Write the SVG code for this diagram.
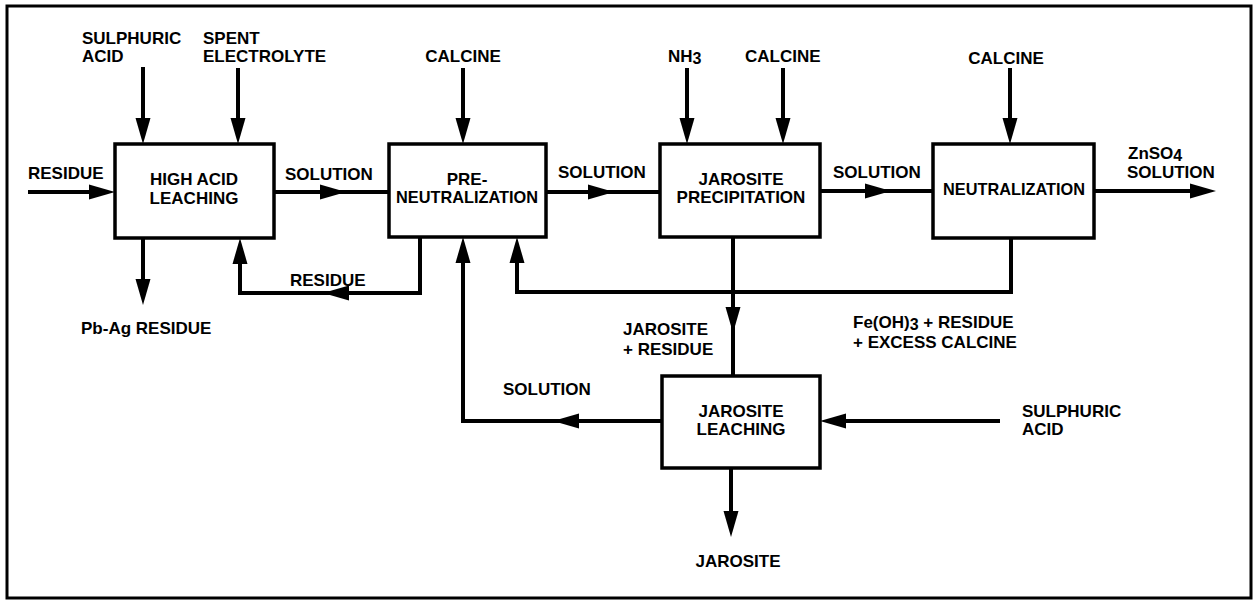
<svg xmlns="http://www.w3.org/2000/svg" xmlns:xlink="http://www.w3.org/1999/xlink" width="1255" height="601" viewBox="0 0 1255 601">
<style>
text{font-family:"Liberation Sans",Arial,sans-serif;font-weight:bold;font-size:17px;fill:#000}
.c{text-anchor:middle}
.box{fill:#fff;stroke:#000;stroke-width:3.5}
.ln{fill:none;stroke:#000;stroke-width:4}
.sub{font-size:16px}
</style>
<defs>
<path id="ah" d="M0,0 L-26,-7.5 L-26,7.5 Z" fill="#000"/>
</defs>
<rect x="7" y="6" width="1244" height="592" fill="#fff" stroke="#000" stroke-width="3"/>

<g id="connectors">
  <line class="ln" x1="143" y1="67" x2="143" y2="134"/>
  <use xlink:href="#ah" href="#ah" transform="translate(143,144) rotate(90)"/>
  <line class="ln" x1="238" y1="68" x2="238" y2="134"/>
  <use xlink:href="#ah" href="#ah" transform="translate(238,144) rotate(90)"/>
  <line class="ln" x1="463" y1="68" x2="463" y2="134"/>
  <use xlink:href="#ah" href="#ah" transform="translate(463,144) rotate(90)"/>
  <line class="ln" x1="687" y1="68" x2="687" y2="134"/>
  <use xlink:href="#ah" href="#ah" transform="translate(687,144) rotate(90)"/>
  <line class="ln" x1="783" y1="68" x2="783" y2="134"/>
  <use xlink:href="#ah" href="#ah" transform="translate(783,144) rotate(90)"/>
  <line class="ln" x1="1010" y1="68" x2="1010" y2="134"/>
  <use xlink:href="#ah" href="#ah" transform="translate(1010,144) rotate(90)"/>
  <line class="ln" x1="28" y1="192" x2="105" y2="192"/>
  <use xlink:href="#ah" href="#ah" transform="translate(115,192)"/>
  <line class="ln" x1="274" y1="192" x2="389" y2="192"/>
  <use xlink:href="#ah" href="#ah" transform="translate(346,192)"/>
  <line class="ln" x1="546" y1="192" x2="660" y2="192"/>
  <use xlink:href="#ah" href="#ah" transform="translate(614,192)"/>
  <line class="ln" x1="820" y1="191" x2="933" y2="191"/>
  <use xlink:href="#ah" href="#ah" transform="translate(891,191)"/>
  <line class="ln" x1="1094" y1="191" x2="1205" y2="191"/>
  <use xlink:href="#ah" href="#ah" transform="translate(1216,191)"/>
  <line class="ln" x1="143" y1="238" x2="143" y2="295"/>
  <use xlink:href="#ah" href="#ah" transform="translate(143,305) rotate(90)"/>
  <polyline class="ln" points="420,237 420,293 240,293 240,248"/>
  <use xlink:href="#ah" href="#ah" transform="translate(323,293) rotate(180)"/>
  <use xlink:href="#ah" href="#ah" transform="translate(240,238) rotate(-90)"/>
  <polyline class="ln" points="1011,238 1011,292 517,292 517,247"/>
  <use xlink:href="#ah" href="#ah" transform="translate(517,237) rotate(-90)"/>
  <line class="ln" x1="733" y1="237" x2="733" y2="376"/>
  <use xlink:href="#ah" href="#ah" transform="translate(733,333) rotate(90)"/>
  <polyline class="ln" points="662,421 463,421 463,247"/>
  <use xlink:href="#ah" href="#ah" transform="translate(553,421) rotate(180)"/>
  <use xlink:href="#ah" href="#ah" transform="translate(463,237) rotate(-90)"/>
  <line class="ln" x1="1000" y1="421" x2="830" y2="421"/>
  <use xlink:href="#ah" href="#ah" transform="translate(820,421) rotate(180)"/>
  <line class="ln" x1="731" y1="468" x2="731" y2="527"/>
  <use xlink:href="#ah" href="#ah" transform="translate(731,537) rotate(90)"/>
</g>

<g id="high-acid-leaching">
  <rect class="box" x="115" y="144" width="159" height="94"/>
  <text class="c" x="194" y="185">HIGH ACID</text>
  <text class="c" x="194" y="204">LEACHING</text>
</g>
<g id="pre-neutralization">
  <rect class="box" x="389" y="144" width="157" height="93"/>
  <text class="c" x="467" y="185">PRE-</text>
  <text class="c" x="467" y="203" textLength="142" lengthAdjust="spacingAndGlyphs">NEUTRALIZATION</text>
</g>
<g id="jarosite-precipitation">
  <rect class="box" x="660" y="144" width="160" height="93"/>
  <text class="c" x="741" y="185">JAROSITE</text>
  <text class="c" x="741" y="203">PRECIPITATION</text>
</g>
<g id="neutralization">
  <rect class="box" x="933" y="144" width="161" height="94"/>
  <text class="c" x="1014" y="195" textLength="142" lengthAdjust="spacingAndGlyphs">NEUTRALIZATION</text>
</g>
<g id="jarosite-leaching">
  <rect class="box" x="662" y="376" width="158" height="92"/>
  <text class="c" x="741" y="417">JAROSITE</text>
  <text class="c" x="741" y="435">LEACHING</text>
</g>

<g id="labels">
  <text x="82" y="44">SULPHURIC</text>
  <text x="82" y="62">ACID</text>
  <text x="203" y="44">SPENT</text>
  <text x="203" y="62">ELECTROLYTE</text>
  <text x="28" y="179">RESIDUE</text>
  <text x="285" y="180">SOLUTION</text>
  <text x="290" y="286">RESIDUE</text>
  <text x="81" y="334">Pb-Ag RESIDUE</text>
  <text class="c" x="463" y="62">CALCINE</text>
  <text x="558" y="178">SOLUTION</text>
  <text x="668" y="62">NH<tspan class="sub" dy="2">3</tspan></text>
  <text x="745" y="62">CALCINE</text>
  <text x="833" y="178">SOLUTION</text>
  <text class="c" x="1006" y="64">CALCINE</text>
  <text x="1128" y="159">ZnSO<tspan class="sub" dy="2">4</tspan></text>
  <text x="1127" y="178">SOLUTION</text>
  <text x="623" y="335">JAROSITE</text>
  <text x="623" y="355">+ RESIDUE</text>
  <text x="853" y="328">Fe(OH)<tspan class="sub" dy="2">3</tspan><tspan dy="-2"> + RESIDUE</tspan></text>
  <text x="853" y="348">+ EXCESS CALCINE</text>
  <text x="503" y="395">SOLUTION</text>
  <text x="1022" y="417">SULPHURIC</text>
  <text x="1022" y="435">ACID</text>
  <text class="c" x="738" y="567">JAROSITE</text>
</g>
</svg>
